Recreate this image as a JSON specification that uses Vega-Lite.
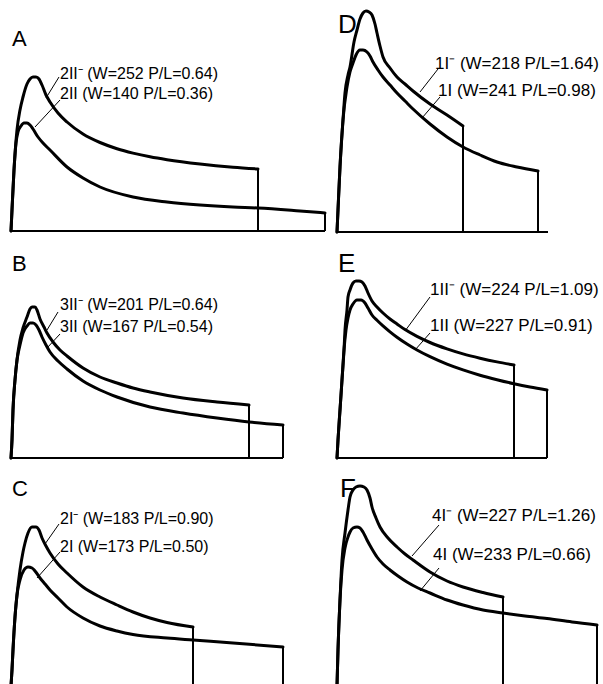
{
"$schema": "https://vega.github.io/schema/vega-lite/v6.json",
"padding": 0,
"background": "white",
"config": {"view": {"stroke": null}, "concat": {"spacing": 0}},
"spacing": 0,
"bounds": "flush",
"align": "each",
"columns": 2,
"datasets": {
"curves": [
{"p":"A","s":"u","x":0,"y":0},{"p":"A","s":"u","x":1,"y":21},{"p":"A","s":"u","x":3,"y":61},{"p":"A","s":"u","x":6,"y":101},{"p":"A","s":"u","x":9,"y":121},{"p":"A","s":"u","x":12,"y":134},{"p":"A","s":"u","x":16,"y":147},{"p":"A","s":"u","x":19,"y":152},{"p":"A","s":"u","x":22,"y":154},{"p":"A","s":"u","x":25,"y":154},{"p":"A","s":"u","x":28,"y":152},{"p":"A","s":"u","x":31,"y":146},{"p":"A","s":"u","x":35,"y":136},{"p":"A","s":"u","x":39,"y":129},{"p":"A","s":"u","x":47,"y":118},{"p":"A","s":"u","x":56,"y":109},{"p":"A","s":"u","x":72,"y":97},{"p":"A","s":"u","x":89,"y":88.5},{"p":"A","s":"u","x":106,"y":82.3},{"p":"A","s":"u","x":122,"y":77.9},{"p":"A","s":"u","x":139,"y":74.2},{"p":"A","s":"u","x":156,"y":71.3},{"p":"A","s":"u","x":189,"y":67},{"p":"A","s":"u","x":222,"y":63.8},{"p":"A","s":"u","x":247,"y":62},
{"p":"A","s":"l","x":0,"y":0},{"p":"A","s":"l","x":1,"y":21},{"p":"A","s":"l","x":3,"y":61},{"p":"A","s":"l","x":5,"y":88},{"p":"A","s":"l","x":7,"y":99},{"p":"A","s":"l","x":10,"y":105},{"p":"A","s":"l","x":13,"y":108},{"p":"A","s":"l","x":16,"y":108},{"p":"A","s":"l","x":19,"y":106},{"p":"A","s":"l","x":22,"y":102},{"p":"A","s":"l","x":27,"y":94},{"p":"A","s":"l","x":32,"y":88},{"p":"A","s":"l","x":39,"y":81},{"p":"A","s":"l","x":56,"y":64},{"p":"A","s":"l","x":72,"y":53},{"p":"A","s":"l","x":89,"y":44},{"p":"A","s":"l","x":122,"y":34},{"p":"A","s":"l","x":156,"y":29},{"p":"A","s":"l","x":189,"y":26},{"p":"A","s":"l","x":222,"y":24},{"p":"A","s":"l","x":247,"y":23},{"p":"A","s":"l","x":289,"y":20},{"p":"A","s":"l","x":314,"y":18},
{"p":"D","s":"u","x":0,"y":0},{"p":"D","s":"u","x":1,"y":22},{"p":"D","s":"u","x":3,"y":65},{"p":"D","s":"u","x":6,"y":112},{"p":"D","s":"u","x":8,"y":139},{"p":"D","s":"u","x":11,"y":157},{"p":"D","s":"u","x":13,"y":165},{"p":"D","s":"u","x":17,"y":190},{"p":"D","s":"u","x":20,"y":202},{"p":"D","s":"u","x":23,"y":213},{"p":"D","s":"u","x":26,"y":219},{"p":"D","s":"u","x":29,"y":221},{"p":"D","s":"u","x":32,"y":220},{"p":"D","s":"u","x":35,"y":217},{"p":"D","s":"u","x":38,"y":208},{"p":"D","s":"u","x":40,"y":199},{"p":"D","s":"u","x":43,"y":186},{"p":"D","s":"u","x":46,"y":175},{"p":"D","s":"u","x":53,"y":164},{"p":"D","s":"u","x":60,"y":155},{"p":"D","s":"u","x":68,"y":148},{"p":"D","s":"u","x":76,"y":141},{"p":"D","s":"u","x":93,"y":128},{"p":"D","s":"u","x":110,"y":117},{"p":"D","s":"u","x":126,"y":106},
{"p":"D","s":"l","x":0,"y":0},{"p":"D","s":"l","x":1,"y":22},{"p":"D","s":"l","x":3,"y":65},{"p":"D","s":"l","x":6,"y":112},{"p":"D","s":"l","x":10,"y":145},{"p":"D","s":"l","x":13,"y":160},{"p":"D","s":"l","x":16,"y":169},{"p":"D","s":"l","x":19,"y":177},{"p":"D","s":"l","x":23,"y":182},{"p":"D","s":"l","x":26,"y":182},{"p":"D","s":"l","x":30,"y":180},{"p":"D","s":"l","x":33,"y":176},{"p":"D","s":"l","x":36,"y":170},{"p":"D","s":"l","x":41,"y":162},{"p":"D","s":"l","x":46,"y":155},{"p":"D","s":"l","x":53,"y":147},{"p":"D","s":"l","x":60,"y":139},{"p":"D","s":"l","x":68,"y":131},{"p":"D","s":"l","x":76,"y":123},{"p":"D","s":"l","x":93,"y":108},{"p":"D","s":"l","x":110,"y":95},{"p":"D","s":"l","x":126,"y":85},{"p":"D","s":"l","x":143,"y":77},{"p":"D","s":"l","x":160,"y":70},{"p":"D","s":"l","x":180,"y":65},{"p":"D","s":"l","x":201,"y":61},
{"p":"B","s":"u","x":0,"y":0},{"p":"B","s":"u","x":1,"y":18},{"p":"B","s":"u","x":2,"y":48},{"p":"B","s":"u","x":4,"y":78},{"p":"B","s":"u","x":6,"y":98},{"p":"B","s":"u","x":9,"y":118},{"p":"B","s":"u","x":12,"y":130},{"p":"B","s":"u","x":16,"y":141},{"p":"B","s":"u","x":19,"y":149},{"p":"B","s":"u","x":21,"y":151},{"p":"B","s":"u","x":24,"y":151},{"p":"B","s":"u","x":26,"y":148},{"p":"B","s":"u","x":29,"y":139},{"p":"B","s":"u","x":33,"y":131},{"p":"B","s":"u","x":36,"y":125},{"p":"B","s":"u","x":42,"y":116},{"p":"B","s":"u","x":49,"y":108},{"p":"B","s":"u","x":56,"y":102},{"p":"B","s":"u","x":72,"y":90},{"p":"B","s":"u","x":89,"y":81},{"p":"B","s":"u","x":106,"y":75},{"p":"B","s":"u","x":122,"y":70},{"p":"B","s":"u","x":139,"y":66},{"p":"B","s":"u","x":172,"y":60},{"p":"B","s":"u","x":206,"y":56},{"p":"B","s":"u","x":238,"y":53},
{"p":"B","s":"l","x":0,"y":0},{"p":"B","s":"l","x":1,"y":18},{"p":"B","s":"l","x":2,"y":48},{"p":"B","s":"l","x":4,"y":78},{"p":"B","s":"l","x":6,"y":98},{"p":"B","s":"l","x":9,"y":113},{"p":"B","s":"l","x":12,"y":125},{"p":"B","s":"l","x":16,"y":132},{"p":"B","s":"l","x":19,"y":135},{"p":"B","s":"l","x":22,"y":135},{"p":"B","s":"l","x":25,"y":133},{"p":"B","s":"l","x":28,"y":128},{"p":"B","s":"l","x":31,"y":121},{"p":"B","s":"l","x":35,"y":113},{"p":"B","s":"l","x":39,"y":106},{"p":"B","s":"l","x":47,"y":97},{"p":"B","s":"l","x":56,"y":89},{"p":"B","s":"l","x":72,"y":77},{"p":"B","s":"l","x":89,"y":68},{"p":"B","s":"l","x":106,"y":61},{"p":"B","s":"l","x":139,"y":51},{"p":"B","s":"l","x":172,"y":45},{"p":"B","s":"l","x":206,"y":40},{"p":"B","s":"l","x":238,"y":36},{"p":"B","s":"l","x":272,"y":33},
{"p":"E","s":"u","x":0,"y":0},{"p":"E","s":"u","x":1,"y":18},{"p":"E","s":"u","x":3,"y":48},{"p":"E","s":"u","x":5,"y":78},{"p":"E","s":"u","x":7,"y":108},{"p":"E","s":"u","x":8,"y":128},{"p":"E","s":"u","x":10,"y":148},{"p":"E","s":"u","x":11,"y":161},{"p":"E","s":"u","x":13,"y":168},{"p":"E","s":"u","x":16,"y":175},{"p":"E","s":"u","x":19,"y":177},{"p":"E","s":"u","x":22,"y":177},{"p":"E","s":"u","x":25,"y":176},{"p":"E","s":"u","x":28,"y":172},{"p":"E","s":"u","x":31,"y":165},{"p":"E","s":"u","x":35,"y":157},{"p":"E","s":"u","x":40,"y":151},{"p":"E","s":"u","x":46,"y":145},{"p":"E","s":"u","x":53,"y":139},{"p":"E","s":"u","x":60,"y":134},{"p":"E","s":"u","x":68,"y":128.4},{"p":"E","s":"u","x":80,"y":121.6},{"p":"E","s":"u","x":93,"y":115.5},{"p":"E","s":"u","x":110,"y":109.1},{"p":"E","s":"u","x":126,"y":104.1},{"p":"E","s":"u","x":143,"y":99.8},{"p":"E","s":"u","x":160,"y":96.1},{"p":"E","s":"u","x":177,"y":93},
{"p":"E","s":"l","x":0,"y":0},{"p":"E","s":"l","x":1,"y":18},{"p":"E","s":"l","x":3,"y":48},{"p":"E","s":"l","x":5,"y":78},{"p":"E","s":"l","x":7,"y":108},{"p":"E","s":"l","x":9,"y":128},{"p":"E","s":"l","x":11,"y":140},{"p":"E","s":"l","x":13,"y":148},{"p":"E","s":"l","x":16,"y":154},{"p":"E","s":"l","x":20,"y":158},{"p":"E","s":"l","x":24,"y":158},{"p":"E","s":"l","x":28,"y":155},{"p":"E","s":"l","x":31,"y":150},{"p":"E","s":"l","x":35,"y":143},{"p":"E","s":"l","x":40,"y":137.8},{"p":"E","s":"l","x":46,"y":132.1},{"p":"E","s":"l","x":53,"y":126.2},{"p":"E","s":"l","x":60,"y":120.8},{"p":"E","s":"l","x":70,"y":114},{"p":"E","s":"l","x":80,"y":108},{"p":"E","s":"l","x":93,"y":101.3},{"p":"E","s":"l","x":110,"y":93.9},{"p":"E","s":"l","x":126,"y":88.1},{"p":"E","s":"l","x":143,"y":82.8},{"p":"E","s":"l","x":160,"y":78.3},{"p":"E","s":"l","x":177,"y":74.3},{"p":"E","s":"l","x":193,"y":71},{"p":"E","s":"l","x":210,"y":68},
{"p":"C","s":"u","x":0,"y":0},{"p":"C","s":"u","x":1,"y":16},{"p":"C","s":"u","x":2,"y":36},{"p":"C","s":"u","x":4,"y":69},{"p":"C","s":"u","x":6,"y":91},{"p":"C","s":"u","x":9,"y":116},{"p":"C","s":"u","x":12,"y":134},{"p":"C","s":"u","x":14,"y":143},{"p":"C","s":"u","x":17,"y":153},{"p":"C","s":"u","x":21,"y":159},{"p":"C","s":"u","x":25,"y":159},{"p":"C","s":"u","x":28,"y":156},{"p":"C","s":"u","x":31,"y":148},{"p":"C","s":"u","x":35,"y":140},{"p":"C","s":"u","x":39,"y":133},{"p":"C","s":"u","x":47,"y":122},{"p":"C","s":"u","x":56,"y":113},{"p":"C","s":"u","x":72,"y":99},{"p":"C","s":"u","x":89,"y":89},{"p":"C","s":"u","x":106,"y":81},{"p":"C","s":"u","x":122,"y":74},{"p":"C","s":"u","x":139,"y":68},{"p":"C","s":"u","x":156,"y":63.5},{"p":"C","s":"u","x":182,"y":59},
{"p":"C","s":"l","x":0,"y":0},{"p":"C","s":"l","x":1,"y":16},{"p":"C","s":"l","x":2,"y":36},{"p":"C","s":"l","x":4,"y":69},{"p":"C","s":"l","x":6,"y":91},{"p":"C","s":"l","x":9,"y":106},{"p":"C","s":"l","x":13,"y":116},{"p":"C","s":"l","x":17,"y":119},{"p":"C","s":"l","x":21,"y":118},{"p":"C","s":"l","x":24,"y":115},{"p":"C","s":"l","x":29,"y":108},{"p":"C","s":"l","x":34,"y":102},{"p":"C","s":"l","x":39,"y":96},{"p":"C","s":"l","x":47,"y":88},{"p":"C","s":"l","x":56,"y":79},{"p":"C","s":"l","x":72,"y":68},{"p":"C","s":"l","x":89,"y":60},{"p":"C","s":"l","x":106,"y":55},{"p":"C","s":"l","x":122,"y":51.5},{"p":"C","s":"l","x":156,"y":48},{"p":"C","s":"l","x":182,"y":46},{"p":"C","s":"l","x":222,"y":43},{"p":"C","s":"l","x":272,"y":39},
{"p":"F","s":"u","x":0,"y":0},{"p":"F","s":"u","x":1,"y":36},{"p":"F","s":"u","x":3,"y":86},{"p":"F","s":"u","x":5,"y":126},{"p":"F","s":"u","x":8,"y":153},{"p":"F","s":"u","x":11,"y":176},{"p":"F","s":"u","x":13,"y":189},{"p":"F","s":"u","x":16,"y":196},{"p":"F","s":"u","x":19,"y":199},{"p":"F","s":"u","x":23,"y":200},{"p":"F","s":"u","x":27,"y":199},{"p":"F","s":"u","x":30,"y":196},{"p":"F","s":"u","x":33,"y":188},{"p":"F","s":"u","x":35,"y":179},{"p":"F","s":"u","x":39,"y":168},{"p":"F","s":"u","x":43,"y":159},{"p":"F","s":"u","x":51,"y":148},{"p":"F","s":"u","x":60,"y":139},{"p":"F","s":"u","x":68,"y":132},{"p":"F","s":"u","x":76,"y":126},{"p":"F","s":"u","x":93,"y":114},{"p":"F","s":"u","x":110,"y":105},{"p":"F","s":"u","x":126,"y":99},{"p":"F","s":"u","x":146,"y":93.5},{"p":"F","s":"u","x":166,"y":89},
{"p":"F","s":"l","x":0,"y":0},{"p":"F","s":"l","x":1,"y":36},{"p":"F","s":"l","x":3,"y":86},{"p":"F","s":"l","x":5,"y":116},{"p":"F","s":"l","x":8,"y":138},{"p":"F","s":"l","x":11,"y":149},{"p":"F","s":"l","x":13,"y":154},{"p":"F","s":"l","x":16,"y":158},{"p":"F","s":"l","x":20,"y":159},{"p":"F","s":"l","x":23,"y":158},{"p":"F","s":"l","x":26,"y":154},{"p":"F","s":"l","x":30,"y":146},{"p":"F","s":"l","x":35,"y":137},{"p":"F","s":"l","x":40,"y":129},{"p":"F","s":"l","x":46,"y":122},{"p":"F","s":"l","x":53,"y":116},{"p":"F","s":"l","x":61,"y":110},{"p":"F","s":"l","x":70,"y":104},{"p":"F","s":"l","x":81,"y":98},{"p":"F","s":"l","x":93,"y":93},{"p":"F","s":"l","x":110,"y":86},{"p":"F","s":"l","x":126,"y":81},{"p":"F","s":"l","x":146,"y":76},{"p":"F","s":"l","x":166,"y":73},{"p":"F","s":"l","x":188,"y":70},{"p":"F","s":"l","x":210,"y":67.5},{"p":"F","s":"l","x":235,"y":64},{"p":"F","s":"l","x":260,"y":61}
],
"drops": [
{"p":"A","x":247,"y":62,"y2":0},{"p":"A","x":314,"y":18,"y2":0},
{"p":"D","x":126,"y":106,"y2":0},{"p":"D","x":201,"y":61,"y2":0},
{"p":"B","x":238,"y":53,"y2":0},{"p":"B","x":272,"y":33,"y2":0},
{"p":"E","x":177,"y":93,"y2":0},{"p":"E","x":210,"y":68,"y2":0},
{"p":"C","x":182,"y":59,"y2":0},{"p":"C","x":272,"y":39,"y2":0},
{"p":"F","x":166,"y":89,"y2":0},{"p":"F","x":260,"y":61,"y2":0}
],
"bases": [
{"p":"A","x":0,"x2":314,"y":0},{"p":"D","x":0,"x2":211,"y":0},{"p":"B","x":0,"x2":272,"y":0},{"p":"E","x":0,"x2":210,"y":0}
],
"leaders": [
{"p":"A","x":48,"y":154,"x2":35,"y2":133},{"p":"A","x":49,"y":131,"x2":24,"y2":104},
{"p":"D","x":101,"y":163,"x2":83,"y2":140},{"p":"D","x":103,"y":135,"x2":85,"y2":114},
{"p":"B","x":47,"y":146,"x2":36,"y2":128},{"p":"B","x":49,"y":124,"x2":36,"y2":110},
{"p":"E","x":93,"y":161,"x2":68,"y2":127},{"p":"E","x":93,"y":125,"x2":78,"y2":108},
{"p":"C","x":48,"y":162,"x2":34,"y2":142},{"p":"C","x":49,"y":134,"x2":26,"y2":108},
{"p":"F","x":102,"y":161,"x2":75,"y2":130},{"p":"F","x":102,"y":118,"x2":83,"y2":95}
],
"labels": [
{"p":"A","k":"letter","t":"A","x":1,"y":185},
{"p":"A","k":"label","t":"2II⁻ (W=252 P/L=0.64)","x":49,"y":152.5},
{"p":"A","k":"label","t":"2II (W=140 P/L=0.36)","x":49,"y":132.5},
{"p":"D","k":"letter","t":"D","x":1,"y":199},
{"p":"D","k":"label","t":"1I⁻ (W=218 P/L=1.64)","x":98,"y":163},
{"p":"D","k":"label","t":"1I (W=241 P/L=0.98)","x":101,"y":136},
{"p":"B","k":"letter","t":"B","x":1,"y":187},
{"p":"B","k":"label","t":"3II⁻ (W=201 P/L=0.64)","x":49,"y":148},
{"p":"B","k":"label","t":"3II (W=167 P/L=0.54)","x":49,"y":126},
{"p":"E","k":"letter","t":"E","x":1,"y":186},
{"p":"E","k":"label","t":"1II⁻ (W=224 P/L=1.09)","x":93,"y":163},
{"p":"E","k":"label","t":"1II (W=227 P/L=0.91)","x":93,"y":127},
{"p":"C","k":"letter","t":"C","x":1,"y":190},
{"p":"C","k":"label","t":"2I⁻ (W=183 P/L=0.90)","x":49,"y":162},
{"p":"C","k":"label","t":"2I (W=173 P/L=0.50)","x":49,"y":134},
{"p":"F","k":"letter","t":"F","x":3,"y":189},
{"p":"F","k":"label","t":"4I⁻ (W=227 P/L=1.26)","x":95,"y":165},
{"p":"F","k":"label","t":"4I (W=233 P/L=0.66)","x":96,"y":126}
]
},
"concat": [
{"width":330,"height":234,
"encoding":{"x":{"field":"x","type":"quantitative","scale":{"domain":[-11,319],"nice":false,"zero":false},"axis":null},"y":{"field":"y","type":"quantitative","scale":{"domain":[-3,231],"nice":false,"zero":false},"axis":null}},
"layer":[
{"data":{"name":"curves"},"transform":[{"filter":"datum.p==='A'"}],"mark":{"type":"line","interpolate":"monotone","color":"black","strokeWidth":3,"strokeCap":"round","strokeJoin":"round"},"encoding":{"detail":{"field":"s"}}},
{"data":{"name":"drops"},"transform":[{"filter":"datum.p==='A'"}],"mark":{"type":"rule","color":"black","strokeWidth":2},"encoding":{"y2":{"field":"y2"}}},
{"data":{"name":"bases"},"transform":[{"filter":"datum.p==='A'"}],"mark":{"type":"rule","color":"black","strokeWidth":2},"encoding":{"x2":{"field":"x2"}}},
{"data":{"name":"leaders"},"transform":[{"filter":"datum.p==='A'"}],"mark":{"type":"rule","color":"black","strokeWidth":1},"encoding":{"x2":{"field":"x2"},"y2":{"field":"y2"}}},
{"data":{"name":"labels"},"transform":[{"filter":"datum.p==='A' && datum.k==='label'"}],"mark":{"type":"text","align":"left","baseline":"alphabetic","font":"Liberation Sans","fontSize":16,"color":"black"},"encoding":{"text":{"field":"t"}}},
{"data":{"name":"labels"},"transform":[{"filter":"datum.p==='A' && datum.k==='letter'"}],"mark":{"type":"text","align":"left","baseline":"alphabetic","font":"Liberation Sans","fontSize":22,"color":"black"},"encoding":{"text":{"field":"t"}}}
]},
{"width":273,"height":234,
"encoding":{"x":{"field":"x","type":"quantitative","scale":{"domain":[-7,266],"nice":false,"zero":false},"axis":null},"y":{"field":"y","type":"quantitative","scale":{"domain":[-2,232],"nice":false,"zero":false},"axis":null}},
"layer":[
{"data":{"name":"curves"},"transform":[{"filter":"datum.p==='D'"}],"mark":{"type":"line","interpolate":"monotone","color":"black","strokeWidth":3,"strokeCap":"round","strokeJoin":"round"},"encoding":{"detail":{"field":"s"}}},
{"data":{"name":"drops"},"transform":[{"filter":"datum.p==='D'"}],"mark":{"type":"rule","color":"black","strokeWidth":2},"encoding":{"y2":{"field":"y2"}}},
{"data":{"name":"bases"},"transform":[{"filter":"datum.p==='D'"}],"mark":{"type":"rule","color":"black","strokeWidth":2},"encoding":{"x2":{"field":"x2"}}},
{"data":{"name":"leaders"},"transform":[{"filter":"datum.p==='D'"}],"mark":{"type":"rule","color":"black","strokeWidth":1},"encoding":{"x2":{"field":"x2"},"y2":{"field":"y2"}}},
{"data":{"name":"labels"},"transform":[{"filter":"datum.p==='D' && datum.k==='label'"}],"mark":{"type":"text","align":"left","baseline":"alphabetic","font":"Liberation Sans","fontSize":17,"color":"black"},"encoding":{"text":{"field":"t"}}},
{"data":{"name":"labels"},"transform":[{"filter":"datum.p==='D' && datum.k==='letter'"}],"mark":{"type":"text","align":"left","baseline":"alphabetic","font":"Liberation Sans","fontSize":26,"color":"black"},"encoding":{"text":{"field":"t"}}}
]},
{"width":330,"height":226,
"encoding":{"x":{"field":"x","type":"quantitative","scale":{"domain":[-11,319],"nice":false,"zero":false},"axis":null},"y":{"field":"y","type":"quantitative","scale":{"domain":[-2,224],"nice":false,"zero":false},"axis":null}},
"layer":[
{"data":{"name":"curves"},"transform":[{"filter":"datum.p==='B'"}],"mark":{"type":"line","interpolate":"monotone","color":"black","strokeWidth":3,"strokeCap":"round","strokeJoin":"round"},"encoding":{"detail":{"field":"s"}}},
{"data":{"name":"drops"},"transform":[{"filter":"datum.p==='B'"}],"mark":{"type":"rule","color":"black","strokeWidth":2},"encoding":{"y2":{"field":"y2"}}},
{"data":{"name":"bases"},"transform":[{"filter":"datum.p==='B'"}],"mark":{"type":"rule","color":"black","strokeWidth":2},"encoding":{"x2":{"field":"x2"}}},
{"data":{"name":"leaders"},"transform":[{"filter":"datum.p==='B'"}],"mark":{"type":"rule","color":"black","strokeWidth":1},"encoding":{"x2":{"field":"x2"},"y2":{"field":"y2"}}},
{"data":{"name":"labels"},"transform":[{"filter":"datum.p==='B' && datum.k==='label'"}],"mark":{"type":"text","align":"left","baseline":"alphabetic","font":"Liberation Sans","fontSize":16,"color":"black"},"encoding":{"text":{"field":"t"}}},
{"data":{"name":"labels"},"transform":[{"filter":"datum.p==='B' && datum.k==='letter'"}],"mark":{"type":"text","align":"left","baseline":"alphabetic","font":"Liberation Sans","fontSize":22,"color":"black"},"encoding":{"text":{"field":"t"}}}
]},
{"width":273,"height":226,
"encoding":{"x":{"field":"x","type":"quantitative","scale":{"domain":[-7,266],"nice":false,"zero":false},"axis":null},"y":{"field":"y","type":"quantitative","scale":{"domain":[-2,224],"nice":false,"zero":false},"axis":null}},
"layer":[
{"data":{"name":"curves"},"transform":[{"filter":"datum.p==='E'"}],"mark":{"type":"line","interpolate":"monotone","color":"black","strokeWidth":3,"strokeCap":"round","strokeJoin":"round"},"encoding":{"detail":{"field":"s"}}},
{"data":{"name":"drops"},"transform":[{"filter":"datum.p==='E'"}],"mark":{"type":"rule","color":"black","strokeWidth":2},"encoding":{"y2":{"field":"y2"}}},
{"data":{"name":"bases"},"transform":[{"filter":"datum.p==='E'"}],"mark":{"type":"rule","color":"black","strokeWidth":2},"encoding":{"x2":{"field":"x2"}}},
{"data":{"name":"leaders"},"transform":[{"filter":"datum.p==='E'"}],"mark":{"type":"rule","color":"black","strokeWidth":1},"encoding":{"x2":{"field":"x2"},"y2":{"field":"y2"}}},
{"data":{"name":"labels"},"transform":[{"filter":"datum.p==='E' && datum.k==='label'"}],"mark":{"type":"text","align":"left","baseline":"alphabetic","font":"Liberation Sans","fontSize":17,"color":"black"},"encoding":{"text":{"field":"t"}}},
{"data":{"name":"labels"},"transform":[{"filter":"datum.p==='E' && datum.k==='letter'"}],"mark":{"type":"text","align":"left","baseline":"alphabetic","font":"Liberation Sans","fontSize":26,"color":"black"},"encoding":{"text":{"field":"t"}}}
]},
{"width":330,"height":224,
"encoding":{"x":{"field":"x","type":"quantitative","scale":{"domain":[-11,319],"nice":false,"zero":false},"axis":null},"y":{"field":"y","type":"quantitative","scale":{"domain":[2,226],"nice":false,"zero":false},"axis":null}},
"layer":[
{"data":{"name":"curves"},"transform":[{"filter":"datum.p==='C'"}],"mark":{"type":"line","interpolate":"monotone","color":"black","strokeWidth":3,"strokeCap":"round","strokeJoin":"round"},"encoding":{"detail":{"field":"s"}}},
{"data":{"name":"drops"},"transform":[{"filter":"datum.p==='C'"}],"mark":{"type":"rule","color":"black","strokeWidth":2},"encoding":{"y2":{"field":"y2"}}},
{"data":{"name":"leaders"},"transform":[{"filter":"datum.p==='C'"}],"mark":{"type":"rule","color":"black","strokeWidth":1},"encoding":{"x2":{"field":"x2"},"y2":{"field":"y2"}}},
{"data":{"name":"labels"},"transform":[{"filter":"datum.p==='C' && datum.k==='label'"}],"mark":{"type":"text","align":"left","baseline":"alphabetic","font":"Liberation Sans","fontSize":16,"color":"black"},"encoding":{"text":{"field":"t"}}},
{"data":{"name":"labels"},"transform":[{"filter":"datum.p==='C' && datum.k==='letter'"}],"mark":{"type":"text","align":"left","baseline":"alphabetic","font":"Liberation Sans","fontSize":22,"color":"black"},"encoding":{"text":{"field":"t"}}}
]},
{"width":273,"height":224,
"encoding":{"x":{"field":"x","type":"quantitative","scale":{"domain":[-7,266],"nice":false,"zero":false},"axis":null},"y":{"field":"y","type":"quantitative","scale":{"domain":[2,226],"nice":false,"zero":false},"axis":null}},
"layer":[
{"data":{"name":"curves"},"transform":[{"filter":"datum.p==='F'"}],"mark":{"type":"line","interpolate":"monotone","color":"black","strokeWidth":3,"strokeCap":"round","strokeJoin":"round"},"encoding":{"detail":{"field":"s"}}},
{"data":{"name":"drops"},"transform":[{"filter":"datum.p==='F'"}],"mark":{"type":"rule","color":"black","strokeWidth":2},"encoding":{"y2":{"field":"y2"}}},
{"data":{"name":"leaders"},"transform":[{"filter":"datum.p==='F'"}],"mark":{"type":"rule","color":"black","strokeWidth":1},"encoding":{"x2":{"field":"x2"},"y2":{"field":"y2"}}},
{"data":{"name":"labels"},"transform":[{"filter":"datum.p==='F' && datum.k==='label'"}],"mark":{"type":"text","align":"left","baseline":"alphabetic","font":"Liberation Sans","fontSize":17,"color":"black"},"encoding":{"text":{"field":"t"}}},
{"data":{"name":"labels"},"transform":[{"filter":"datum.p==='F' && datum.k==='letter'"}],"mark":{"type":"text","align":"left","baseline":"alphabetic","font":"Liberation Sans","fontSize":26,"color":"black"},"encoding":{"text":{"field":"t"}}}
]}
]
}
